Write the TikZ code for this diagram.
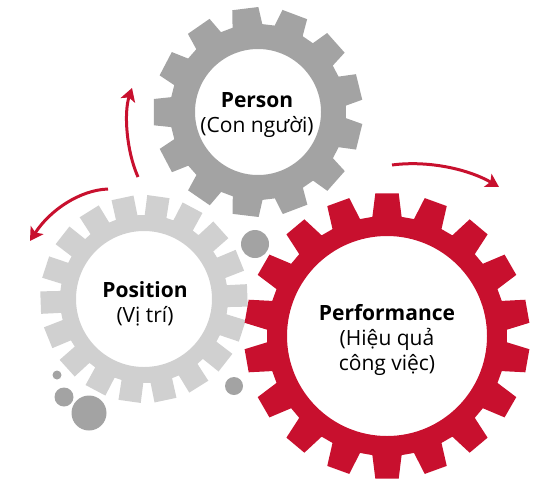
\documentclass[tikz,border=0pt]{standalone}
\usepackage{fontspec}
\setmainfont{Open Sans}
\usepackage{tikz}
\usetikzlibrary{arrows.meta}
\definecolor{gearred}{RGB}{200,16,46}
\definecolor{geargrey}{RGB}{163,163,163}
\definecolor{gearlight}{RGB}{208,208,208}

% #1 centre, #2 teeth, #3 tip radius, #4 root radius, #5 hole radius,
% #6 half tooth at tip, #7 half tooth at root, #8 first tooth, #9 colour
\newcommand{\gear}[9]{%
	\pgfmathtruncatemacro{\lasttooth}{#2-1}%
	\begin{scope}[shift={#1}]
		\fill[#9,even odd rule] (#8-90-#7:#4)
			\foreach \k in {0,...,\lasttooth}{
				-- ({#8-90+\k*360/#2-#7}:#4) -- ({#8-90+\k*360/#2-#6}:#3)
				-- ({#8-90+\k*360/#2+#6}:#3) -- ({#8-90+\k*360/#2+#7}:#4)
			} -- cycle (0,0) circle (#5);
	\end{scope}}

\begin{document}
\begin{tikzpicture}[x=1pt,y=-1pt,
		gearlabel/.style={font=\fontsize{21}{25}\selectfont,align=center,inner sep=0pt},
		turn/.style={gearred,line width=3pt,-{Stealth[length=13pt,width=15pt,inset=3pt]}}]
		\useasboundingbox (0,0) rectangle (545,485);
		%
		\coordinate (personC) at (258,112);
		\coordinate (positionC) at (144,299);
		\coordinate (perfC) at (387,336);
		%
		\gear{(personC)}{13}{105}{88}{63}{7.2}{9.8}{-7}{geargrey}
		\gear{(positionC)}{18}{104}{84}{68}{6.2}{7.5}{8}{gearlight}
		\gear{(perfC)}{18}{143}{120}{100}{4.7}{7}{0}{gearred}
		%
		\fill[geargrey] (255,244) circle (14) (234,386) circle (9)
			(89,413) circle (17.5) (64,397) circle (9.5) (57,375) circle (4.5);
		%
		\node[gearlabel] (person) at (257,115) {\textbf{Person}\\(Con người)};
		\node[gearlabel] (position) at (145,304) {\textbf{Position}\\(Vị trí)};
		\node[gearlabel] (perf) at (387,340) {\textbf{Performance}\\(Hiệu quả\\công việc)};
		%
		\coordinate (up0) at (138,177);
		\coordinate (up1) at (132,88);
		\coordinate (left0) at (108,189);
		\coordinate (left1) at (30,241);
		\coordinate (right0) at (392,165);
		\coordinate (right1) at (499,187);
		\draw[turn] (up0) .. controls (126,150) and (124,112) .. (up1);
		\draw[turn] (left0) .. controls (80,190) and (50,210) .. (left1);
		\draw[turn] (right0) .. controls (430,160) and (470,170) .. (right1);
	\end{tikzpicture}
\end{document}
